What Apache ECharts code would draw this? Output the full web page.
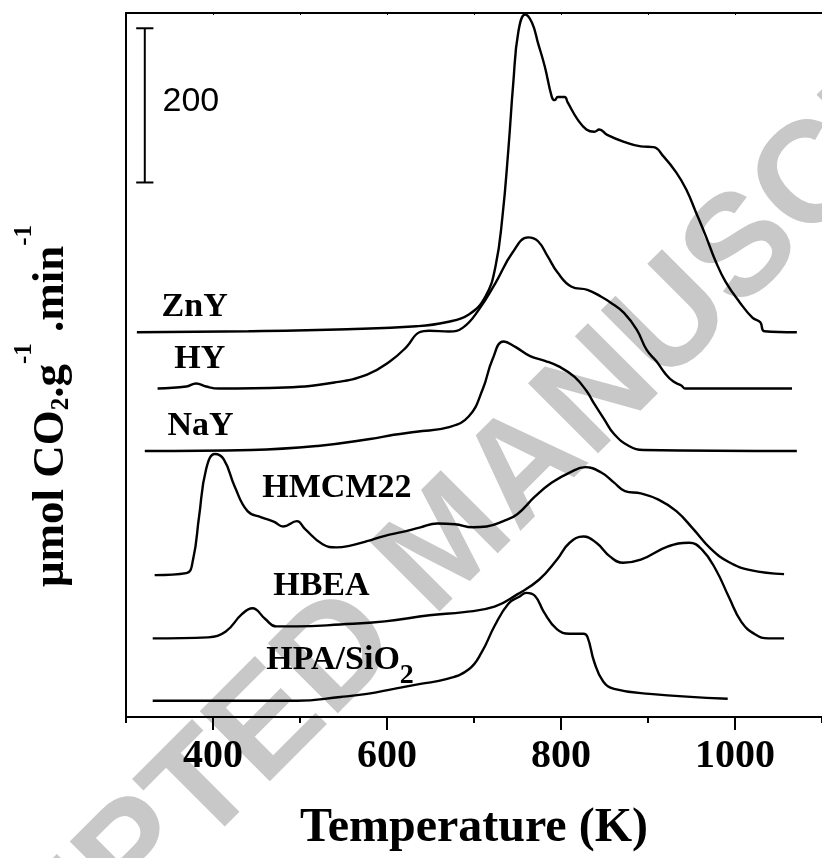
<!DOCTYPE html>
<html>
<head>
<meta charset="utf-8">
<script src="https://cdn.jsdelivr.net/npm/echarts@6/dist/echarts.min.js"></script>
<style>
html,body{margin:0;padding:0;background:#fff;}
#chart{width:822px;height:858px;}
</style>
</head>
<body>
<div id="chart"></div>
<script>
// ---- DATA (temperature in K, signal in µmol CO2 g-1 min-1 above each trace's baseline) ----
const sampleNames = ['ZnY', 'HY', 'NaY', 'HMCM22', 'HBEA', 'HPA/SiO2'];
const baselineOffsets = [499, 426, 345, 184, 102, 21];

const znyT = [312.5,440.8,554.4,633.9,668.0,694.1,713.4,724.8,732.7,739.5,745.2,750.9,758.8,766.8,773.6,781.5,789.5,792.9,796.3,804.2,807.7,819.0,829.2,838.3,844.0,853.1,872.4,891.7,906.5,917.8,932.6,944.0,955.3,966.7,978.1,989.4,1005.3,1020.0,1029.1,1033.7,1071.1];
const znyS = [0,1.3,3.9,7.8,13,23,47,86,150,237,324,389,412,401,375,344,305,301,305,305,298,276,263,260,263,256,247,241,240,228,207,185,155,124,91,65,39,19,13,1.3,0];

const hyT = [336.3,369.3,380.6,392.0,406.8,482.8,539.6,577.1,603.2,622.5,637.3,648.7,671.4,687.3,705.4,724.8,744.1,762.2,773.6,784.9,796.3,812.2,830.4,846.3,857.6,872.4,887.2,898.5,909.9,920.1,929.2,938.3,942.8,1065.5];
const hyS = [0,2.6,6.5,2.6,0,1.3,7.8,18,35,54,73,75,74,79,102,137,176,196,191,171,150,132,128,119,111,98,76,50,35,19,9,4,0,0];

const nayT = [321.6,444.2,520.3,580.5,607.8,633.9,671.4,694.1,710.0,721.3,733.8,747.5,764.5,781.5,798.6,815.6,829.2,838.3,849.7,861.0,878.1,895.1,1071.1];
const nayS = [0,1.3,6.5,15.5,21,25,31,45,80,119,142,135,123,117,109,96,78,61,41,22,6.5,1.3,0];

const hmcmT = [332.9,369.3,377.2,384.0,392.0,402.2,412.4,424.9,439.7,455.6,470.4,480.6,496.5,505.6,526.0,541.9,556.7,577.1,597.6,618.0,638.4,657.7,678.2,698.6,714.5,733.8,749.7,770.2,789.5,809.9,828.1,846.3,861.0,873.5,891.7,912.1,932.6,951.9,972.3,992.8,1017.8,1056.4];
const hmcmS = [0,2.6,21,76,137,157,150,115,83,75,69,63,70,60,40,36,38,44,51,56,62,67,66,62,63,70,79,102,120,133,140,133,120,109,106,98,83,60,34,17,6.5,1.3];

const hbeaT = [330.7,394.3,414.7,432.9,445.4,460.1,472.6,496.5,546.4,597.6,648.7,688.4,723.6,749.7,774.7,795.2,809.9,825.8,840.6,856.5,871.3,891.7,922.4,947.3,962.1,978.0,992.8,1007.5,1023.4,1038.2,1056.4];
const hbeaS = [0,1.3,9,31,39,25,15.5,15.5,18,22,30,34,41,57,76,102,124,132,124,106,98,102,119,124,115,89,54,21,5,0,0];

const hpaT = [330.7,496.5,546.4,577.1,607.8,638.4,668.0,694.1,708.9,723.6,739.5,752.0,760.0,770.2,780.4,795.2,809.9,825.8,830.4,838.3,848.5,861.0,901.9,991.6];
const hpaS = [0,0,5,9,15.5,22,28,41,63,97,126,135,140,136,115,93,87,87,83,50,25,15.5,9,2.6];

// label anchor points (left edge, vertical centre) in data units
const labelT = [340.9, 355.6, 347.7, 456.7, 469.2, 461.3];
const labelY = [531.6, 463.6, 376.8, 296.6, 169.6, 73.2];

// scale bar: position (K), base value, length (200 units), cap half-width (K)
const scaleBar = [321.6, 693.2, 200, 9.9];
const scaleLabelPos = [342, 798.6];
const scaleLabelText = '200';

const majorTicks = [400, 600, 800, 1000];
const minorTicks = [300, 500, 700, 900, 1100];
const allTicks = [300, 400, 500, 600, 700, 800, 900, 1000, 1100];

// ---- CHART ----
const traces = [[znyT, znyS], [hyT, hyS], [nayT, nayS], [hmcmT, hmcmS], [hbeaT, hbeaS], [hpaT, hpaS]];
const chart = echarts.init(document.getElementById('chart'), null, {renderer: 'canvas', width: 822, height: 858});

const serif = "'Liberation Serif', 'Times New Roman', serif";
const lineSeries = traces.map((tr, k) => ({
  type: 'line',
  name: sampleNames[k],
  data: tr[0].map((t, i) => [t, baselineOffsets[k] + tr[1][i]]),
  showSymbol: false,
  smooth: 0.45,
  lineStyle: {color: '#000', width: 2.4},
  z: 5,
  silent: true
}));

const labelSeries = {
  type: 'scatter',
  symbolSize: 0,
  silent: true,
  z: 6,
  itemStyle: {opacity: 1},
  data: sampleNames.map((n, k) => ({name: n, value: [labelT[k], labelY[k]]})),
  label: {
    show: true,
    position: [0, 0],
    align: 'left',
    verticalAlign: 'middle',
    fontFamily: serif,
    fontWeight: 'bold',
    fontSize: 34,
    color: '#000',
    formatter: p => p.name === 'HPA/SiO2' ? '{m|HPA/SiO}{s|2}' : '{m|' + p.name + '}',
    rich: {
      m: {fontFamily: serif, fontWeight: 'bold', fontSize: 34, lineHeight: 59, color: '#000'},
      s: {fontFamily: serif, fontWeight: 'bold', fontSize: 28, lineHeight: 28, verticalAlign: 'bottom', color: '#000'}
    }
  }
};

const scaleLabelSeries = {
  type: 'scatter',
  symbolSize: 0,
  silent: true,
  z: 6,
  itemStyle: {opacity: 1},
  data: [{name: scaleLabelText, value: scaleLabelPos}],
  label: {
    show: true, position: [0, 0], align: 'left', verticalAlign: 'middle',
    fontFamily: "'Liberation Sans', Arial, sans-serif", fontSize: 34, color: '#000',
    formatter: p => p.name
  }
};

const scaleBarSeries = {
  type: 'custom',
  silent: true,
  z: 6,
  data: [scaleBar],
  encode: {x: 0, y: 1},
  renderItem: (params, api) => {
    const x = api.value(0), y0 = api.value(1), len = api.value(2), h = api.value(3);
    const b = api.coord([x, y0]), t = api.coord([x, y0 + len]);
    const bl = api.coord([x - h, y0]), br = api.coord([x + h, y0]);
    const tl = api.coord([x - h, y0 + len]), tr = api.coord([x + h, y0 + len]);
    const st = {stroke: '#000', lineWidth: 2};
    return {type: 'group', children: [
      {type: 'line', shape: {x1: b[0], y1: b[1], x2: t[0], y2: t[1]}, style: st},
      {type: 'line', shape: {x1: bl[0], y1: bl[1], x2: br[0], y2: br[1]}, style: st},
      {type: 'line', shape: {x1: tl[0], y1: tl[1], x2: tr[0], y2: tr[1]}, style: st}
    ]};
  }
};

const option = {
  backgroundColor: '#fff',
  animation: false,
  grid: {left: 126, top: 13, width: 704, height: 705, containLabel: false},
  xAxis: [
    {
      type: 'value', min: 300, max: 1100, position: 'bottom',
      axisLine: {show: true, onZero: false, lineStyle: {color: '#000', width: 2}},
      axisTick: {show: true, customValues: majorTicks, length: 13, lineStyle: {color: '#000', width: 2}},
      axisLabel: {show: true, customValues: majorTicks, margin: 20, fontFamily: serif, fontWeight: 'bold', fontSize: 40, color: '#000', formatter: v => String(v)},
      splitLine: {show: false},
      name: 'Temperature (K)', nameLocation: 'middle', nameGap: 88,
      nameTextStyle: {fontFamily: serif, fontWeight: 'bold', fontSize: 48, color: '#000'}
    },
    {
      type: 'value', min: 300, max: 1100, position: 'bottom',
      axisLine: {show: false, onZero: false},
      axisTick: {show: true, customValues: minorTicks, length: 6, lineStyle: {color: '#000', width: 2}},
      axisLabel: {show: false},
      splitLine: {show: false}
    },
    {
      type: 'value', min: 300, max: 1100, position: 'top',
      axisLine: {show: true, onZero: false, lineStyle: {color: '#000', width: 2}},
      axisTick: {show: true, inside: true, customValues: allTicks, length: 2, lineStyle: {color: '#000', width: 1}},
      axisLabel: {show: false},
      splitLine: {show: false}
    }
  ],
  yAxis: {
    type: 'value', min: 0, max: 913,
    axisLine: {show: true, onZero: false, lineStyle: {color: '#000', width: 2}},
    axisTick: {show: false}, axisLabel: {show: false}, splitLine: {show: false}
  },
  graphic: [
    {
      type: 'text', z: -10, x: 450, y: 545, rotation: Math.PI / 4, silent: true,
      style: {text: 'ACCEPTED MANUSCRIPT', fill: '#c8c8c8', font: "bold 144px 'Liberation Sans', Arial, sans-serif", align: 'center', verticalAlign: 'middle'}
    },
    {
      type: 'text', x: 43, y: 406, rotation: Math.PI / 2, silent: true, z: 10,
      style: {
        text: '{m|μmol CO}{sub|2}{m|.g}{sup|-1}{m| .min}{sup|-1}',
        align: 'center', verticalAlign: 'middle',
        rich: {
          m: {fontFamily: serif, fontWeight: 'bold', fontSize: 45, lineHeight: 62, verticalAlign: 'bottom', fill: '#000'},
          sup: {fontFamily: serif, fontWeight: 'bold', fontSize: 25, lineHeight: 25, verticalAlign: 'top', fill: '#000'},
          sub: {fontFamily: serif, fontWeight: 'bold', fontSize: 25, lineHeight: 25, verticalAlign: 'bottom', fill: '#000'}
        }
      }
    }
  ],
  series: [...lineSeries, labelSeries, scaleLabelSeries, scaleBarSeries]
};
chart.setOption(option);
</script>
</body>
</html>
